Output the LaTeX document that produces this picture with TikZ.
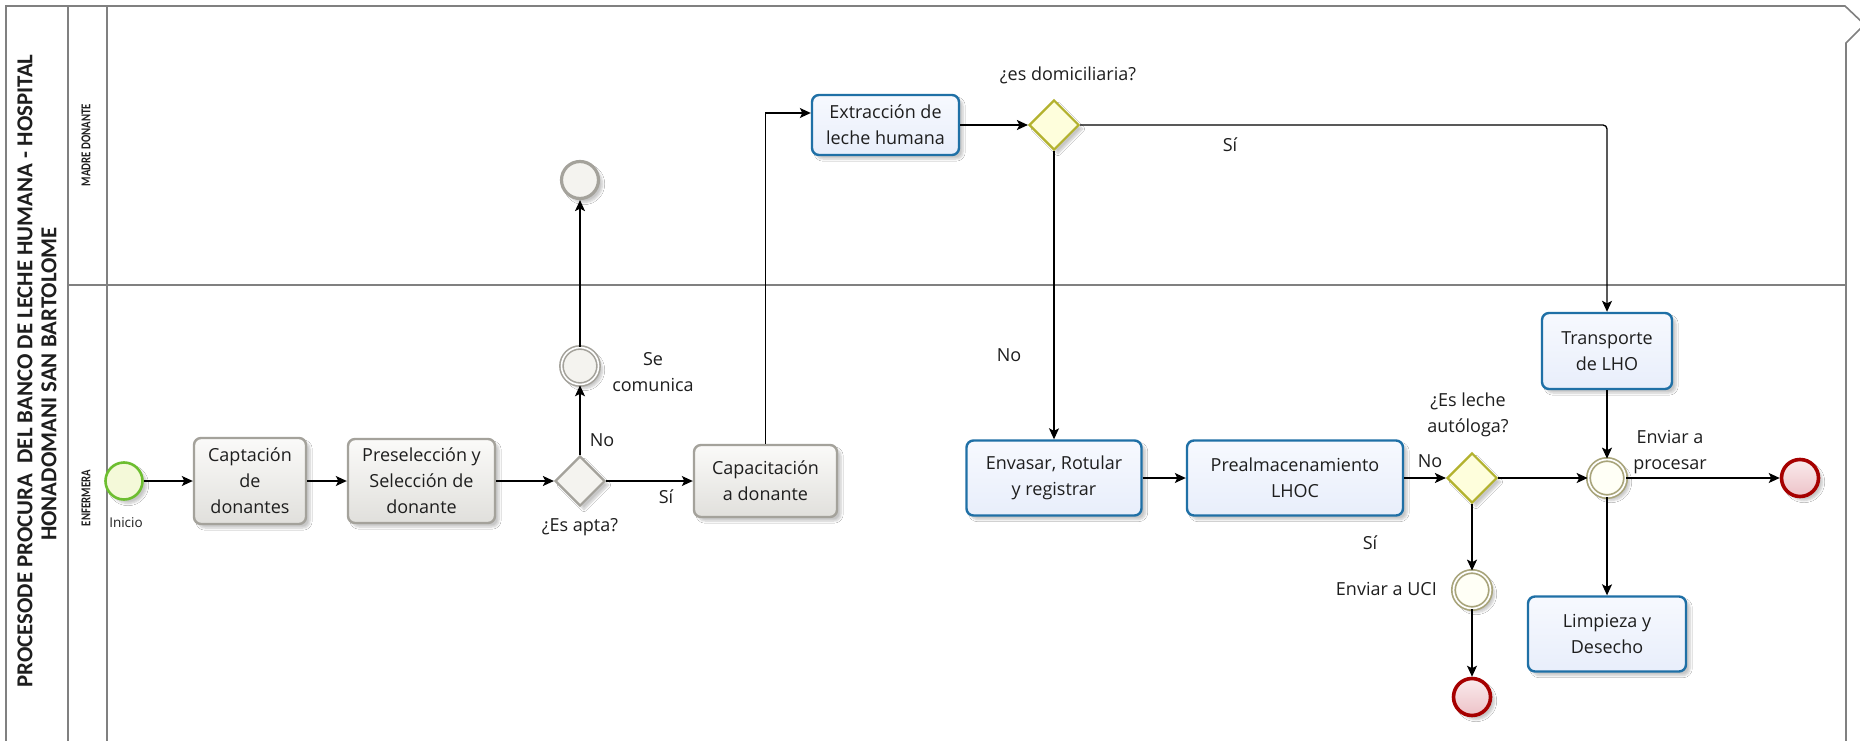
\documentclass[tikz,border=0pt]{standalone}
\usepackage{fontspec}
\setmainfont{Open Sans}
\newfontfamily\headfont{Carlito}
\newfontfamily\lanefont[FakeStretch=0.8]{Carlito}
\usetikzlibrary{shapes.geometric, arrows.meta, shadows.blur}

\definecolor{poolline}{HTML}{808080}
\definecolor{graytask}{HTML}{A4A29B}
\definecolor{grayfill}{HTML}{F4F3EF}
\definecolor{bluetask}{HTML}{1F70A6}
\definecolor{bluetop}{HTML}{F7F9FE}
\definecolor{bluebot}{HTML}{E8EEFB}
\definecolor{gwolive}{HTML}{B3B22E}
\definecolor{gwfill}{HTML}{FEFEDC}
\definecolor{evolive}{HTML}{A8A47A}
\definecolor{evfill}{HTML}{FFFFF6}
\definecolor{startgreen}{HTML}{6DBE30}
\definecolor{startfill}{HTML}{F4F9D9}
\definecolor{endred}{HTML}{A60000}
\definecolor{endtop}{HTML}{FAEBEC}
\definecolor{endbot}{HTML}{EDC2C7}
\definecolor{txt}{HTML}{1E1E1E}

\tikzset{
  x=1pt, y=-1pt,
  pool/.style={draw=poolline, line width=1.6pt},
  soft/.style={blur shadow={shadow xshift=4pt, shadow yshift=-4pt, shadow opacity=22, shadow blur steps=6}},
  lbl/.style={font=\fontsize{18}{26}\selectfont, text=txt, align=center, inner sep=0pt},
  task/.style={lbl, rectangle, rounded corners=7pt, line width=2.4pt, soft},
  graybox/.style={task, draw=graytask, top color=white!60!grayfill, bottom color=grayfill!92!black!100},
  bluebox/.style={task, draw=bluetask, top color=bluetop, bottom color=bluebot},
  graygw/.style={diamond, minimum width=50pt, minimum height=50pt, inner sep=0pt, draw=graytask, line width=2.2pt, fill=grayfill, soft},
  yellowgw/.style={diamond, minimum width=50pt, minimum height=50pt, inner sep=0pt, draw=gwolive, line width=2.2pt, fill=gwfill, soft},
  event/.style={circle, minimum size=37pt, inner sep=0pt, soft},
  startev/.style={event, draw=startgreen, line width=2.6pt, fill=startfill},
  endev/.style={event, draw=endred, line width=3.6pt, top color=endtop, bottom color=endbot},
  grayend/.style={event, draw=graytask, line width=3.2pt, fill=grayfill},
  grayint/.style={event, draw=graytask, line width=1.6pt, double=white, double distance=1.6pt, fill=grayfill},
  oliveint/.style={event, draw=evolive, line width=1.7pt, double=white, double distance=1.7pt, fill=evfill},
  flow/.style={draw=black, line width=1.3pt, -{Stealth[length=11pt, width=10pt, inset=2.5pt]}},
  headtitle/.style={font=\headfont\bfseries\fontsize{22.8}{26}\selectfont, text=txt, inner sep=0pt, rotate=90},
  lanetitle/.style={font=\lanefont\bfseries\fontsize{13.5}{15}\selectfont, text=txt, inner sep=0pt, rotate=90},
}

\begin{document}
\begin{tikzpicture}
  \useasboundingbox (0,0) rectangle (1860,741);
  \fill[white] (0,0) rectangle (1860,741);
  \clip (0,0) rectangle (1860,741);

  % pool and lanes
  \draw[pool] (6,760) -- (6,6) -- (1845,6) -- (1864.5,24.5) -- (1846,43) -- (1846,760);
  \draw[pool] (68,6) -- (68,760);
  \draw[pool] (107,6) -- (107,760);
  \draw[pool] (68,285) -- (1846,285);

  \node[headtitle] (title1) at (25,371) {PROCESODE PROCURA\ \ DEL BANCO DE LECHE HUMANA - HOSPITAL};
  \node[headtitle] (title2) at (49,384) {HONADOMANI SAN BARTOLOME};
  \node[lanetitle] (lane1) at (86,145) {MADRE DONANTE};
  \node[lanetitle] (lane2) at (86,498) {ENFERMERA};

  % enfermera lane, first part
  \node[startev] (inicio) at (124,481) {};
  \node[lbl, font=\fontsize{13.5}{16}\selectfont] (inicioL) at (126,523) {Inicio};
  \node[graybox, minimum width=112pt, minimum height=86pt] (capt) at (250,481) {Captación\\de\\donantes};
  \node[graybox, minimum width=147pt, minimum height=84pt] (presel) at (421.5,481) {Preselección y\\Selección de\\donante};
  \node[graygw] (apta) at (580,481) {};
  \node[lbl] (aptaL) at (580,527) {¿Es apta?};
  \node[lbl] (aptaNo) at (602,440) {No};
  \node[lbl] (aptaSi) at (666,497) {Sí};
  \node[grayint] (comun) at (580,366) {};
  \node[lbl] (comunL) at (653,372) {Se\\comunica};
  \node[grayend] (fin1) at (580,180) {};
  \node[graybox, minimum width=143pt, minimum height=72pt] (capac) at (765.5,481) {Capacitación\\a donante};

  % madre donante lane
  \node[bluebox, minimum width=147pt, minimum height=60pt] (extr) at (885.5,125) {Extracción de\\leche humana};
  \node[yellowgw] (domic) at (1054,125) {};
  \node[lbl] (domicL) at (1068,75) {¿es domiciliaria?};
  \node[lbl] (domicSi) at (1230,145) {Sí};
  \node[lbl] (domicNo) at (1009,355) {No};

  % enfermera lane, second part
  \node[bluebox, minimum width=175pt, minimum height=75pt] (envas) at (1054,478) {Envasar, Rotular\\y registrar};
  \node[bluebox, minimum width=216pt, minimum height=75pt] (prealm) at (1295,478) {Prealmacenamiento\\LHOC};
  \node[yellowgw] (autol) at (1472,478) {};
  \node[lbl] (autolL) at (1468,415) {¿Es leche\\autóloga?};
  \node[lbl] (autolNo) at (1430,461) {No};
  \node[lbl] (autolSi) at (1370,543) {Sí};
  \node[oliveint] (uci) at (1472,590) {};
  \node[lbl, anchor=east] (uciL) at (1437,589) {Enviar a UCI};
  \node[endev] (fin2) at (1472,697) {};
  \node[bluebox, minimum width=130pt, minimum height=76pt] (transp) at (1607,351) {Transporte\\de LHO};
  \node[oliveint] (merge) at (1607,478) {};
  \node[lbl] (mergeL) at (1670,452) {Enviar a\\procesar};
  \node[endev] (fin3) at (1800,478) {};
  \node[bluebox, minimum width=158pt, minimum height=75pt] (limp) at (1607,634) {Limpieza y\\Desecho};

  % sequence flows
  \draw[flow] (inicio) -- (capt);
  \draw[flow] (capt) -- (presel);
  \draw[flow] (presel) -- (apta);
  \draw[flow] (apta) -- (capac);
  \draw[flow] (apta) -- (comun);
  \draw[flow] (comun) -- (fin1);
  \draw[flow] (capac.north) |- ([yshift=12pt]extr.west);
  \draw[flow] (extr) -- (domic);
  \draw[flow, rounded corners=4pt] (domic.east) -| (transp.north);
  \draw[flow] (domic.south) -- (envas.north);
  \draw[flow] (envas) -- (prealm);
  \draw[flow] (prealm) -- (autol);
  \draw[flow] (autol) -- (merge);
  \draw[flow] (autol) -- (uci);
  \draw[flow] (uci) -- (fin2);
  \draw[flow] (transp) -- (merge);
  \draw[flow] (merge) -- (fin3);
  \draw[flow] (merge) -- (limp);
\end{tikzpicture}
\end{document}
